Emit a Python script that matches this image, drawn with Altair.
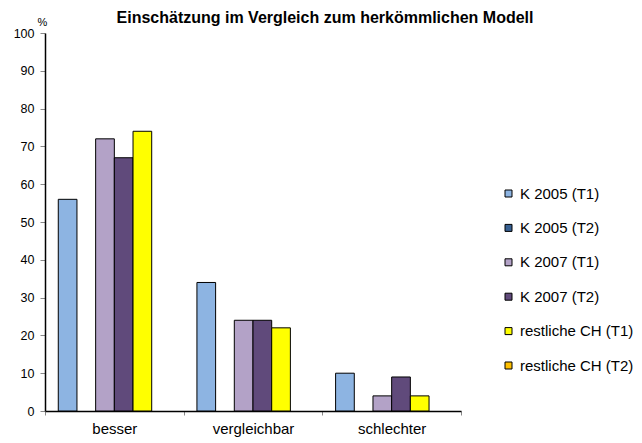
import altair as alt
import pandas as pd

title_text = "Einschätzung im Vergleich zum herkömmlichen Modell"
categories = ["besser", "vergleichbar", "schlechter"]
series = ["K 2005 (T1)", "K 2005 (T2)", "K 2007 (T1)", "K 2007 (T2)",
          "restliche CH (T1)", "restliche CH (T2)"]
colors = ["#8DB4E2", "#376092", "#B3A2C7", "#604A7B", "#FFFF00", "#FFC000"]

k2005_t1 = [56, 34, 10]
k2005_t2 = [None, None, None]
k2007_t1 = [72, 24, 4]
k2007_t2 = [67, 24, 9]
ch_t1 = [74, 22, 4]
ch_t2 = [None, None, None]
y_ticks = [0, 10, 20, 30, 40, 50, 60, 70, 80, 90, 100]

all_vals = [k2005_t1, k2005_t2, k2007_t1, k2007_t2, ch_t1, ch_t2]
rows = []
for s, vals in zip(series, all_vals):
    for c, v in zip(categories, vals):
        if v is not None:
            rows.append({"Kategorie": c, "Serie": s, "Wert": v})
df = pd.DataFrame(rows)

FONT = "Liberation Sans"

chart = alt.Chart(df).mark_bar(stroke="black", strokeWidth=1).encode(
    x=alt.X("Kategorie:N", sort=categories,
            scale=alt.Scale(domain=categories, paddingInner=0, paddingOuter=0),
            axis=alt.Axis(title=None, labelAngle=0, tickBand="extent",
                          labelFontSize=15, labelColor="black",
                          labelBaseline="alphabetic", labelPadding=18,
                          tickSize=4, tickColor="#888888",
                          domainColor="black", domainWidth=1.5)),
    xOffset=alt.XOffset("Serie:N",
                        scale=alt.Scale(domain=series, paddingInner=0, paddingOuter=0.71)),
    y=alt.Y("Wert:Q",
            scale=alt.Scale(domain=[0, 100], nice=False),
            axis=alt.Axis(title="%", titleAngle=0, titleX=-3, titleY=-8,
                          titleAlign="center", titleBaseline="alphabetic",
                          titleFontSize=11, titleFontWeight="normal",
                          values=y_ticks, labelFontSize=12.5, labelColor="black",
                          labelPadding=6, tickSize=5, tickColor="#888888",
                          domainColor="black", domainWidth=1.5, grid=False)),
    color=alt.Color("Serie:N",
                    scale=alt.Scale(domain=series, range=colors),
                    legend=alt.Legend(title=None, orient="none",
                                      legendX=456, legendY=153,
                                      symbolType="square", symbolSize=49,
                                      symbolStrokeColor="black",
                                      symbolStrokeWidth=1,
                                      labelFontSize=15, labelColor="black",
                                      labelOffset=4, rowPadding=18.4,
                                      padding=0)),
).properties(
    width=416,
    height=378,
    title=alt.TitleParams(title_text, fontSize=16, fontWeight="bold",
                          anchor="middle", frame="group", dx=72, dy=27,
                          baseline="alphabetic",
                          color="black", font=FONT),
    autosize=alt.AutoSizeParams(type="none"),
    padding={"left": 37, "top": 25, "right": 173, "bottom": 28},
).configure(
    font=FONT,
).configure_view(
    stroke=None,
).configure_axis(
    labelFont=FONT, titleFont=FONT,
).configure_legend(
    labelFont=FONT,
)

chart.save("out.html", embed_options={"renderer": "svg", "actions": False})
